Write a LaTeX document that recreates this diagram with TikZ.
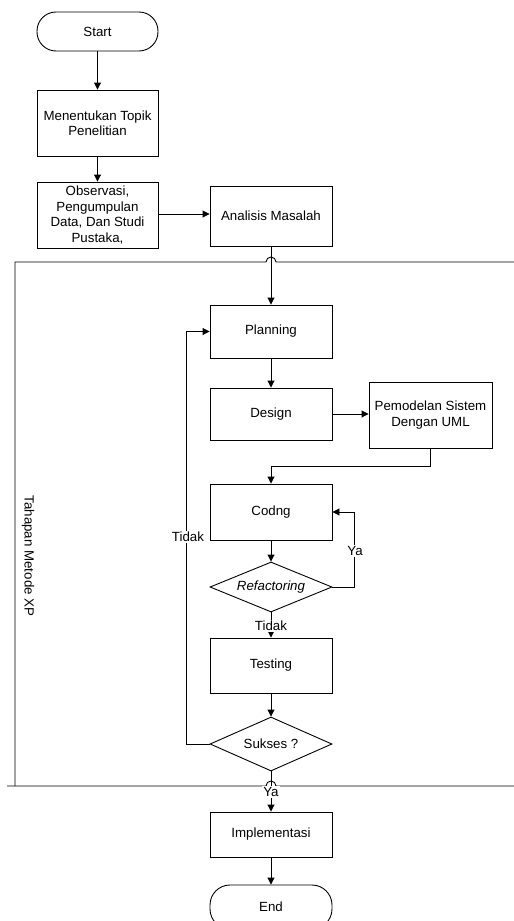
\documentclass[tikz,border=0pt]{standalone}
\usepackage{fontspec}
\setmainfont{Liberation Sans}
\usetikzlibrary{shapes.geometric,arrows.meta}
\tikzset{
  box/.style={draw, line width=0.9pt, minimum width=121pt, inner sep=2pt, align=center, font=\fontsize{13.3}{15.5}\selectfont},
  term/.style={box, rounded corners=19pt},
  dec/.style={draw, line width=0.9pt, diamond, aspect=2.4, inner sep=0pt, minimum width=122pt, font=\fontsize{13.3}{15.5}\selectfont},
  conn/.style={line width=0.9pt, -{Triangle[length=7pt,width=7pt]}},
  plain/.style={line width=0.9pt},
  lab/.style={fill=white, inner sep=1pt, font=\fontsize{13.3}{15.5}\selectfont},
}
\begin{document}
\begin{tikzpicture}[x=1pt,y=-1pt]
\useasboundingbox (0,0) rectangle (514,921);
\clip (0,0) rectangle (514,921);
% frame
\draw[plain] (514,262) -- (276,262) arc[start angle=0,end angle=-180,radius=5] -- (15,262) -- (15,786);
\draw[plain] (7,786) -- (266,786) arc[start angle=180,end angle=360,radius=5] -- (514,786);
\node[rotate=-90, font=\fontsize{13.3}{15.5}\selectfont] (lane) at (28,556) {Tahapan Metode XP};
% nodes
\node[term, minimum height=39pt] (start) at (97.5,31.5) {Start};
\node[box, minimum height=66pt] (men) at (97.5,123) {Menentukan Topik\\Penelitian};
\node[box, minimum height=66pt] (obs) at (97.5,215) {Observasi,\\Pengumpulan\\Data, Dan Studi\\Pustaka,};
\node[box, minimum width=122pt, minimum height=60pt] (ana) at (271,216) {Analisis Masalah};
\node[box, minimum width=122pt, minimum height=53pt] (plan) at (271,331.5) {Planning};
\node[box, minimum width=122pt, minimum height=52pt] (des) at (271,414) {Design};
\node[box, minimum width=123pt, minimum height=66pt] (pem) at (430.5,415) {Pemodelan Sistem\\Dengan UML};
\node[box, minimum width=122pt, minimum height=56pt] (cod) at (271,512) {Codng};
\node[dec, minimum height=50pt] (ref) at (271,587) {\itshape Refactoring};
\node[box, minimum width=122pt, minimum height=55pt] (test) at (271,665.5) {Testing};
\node[dec, minimum height=54pt] (suk) at (271,744) {Sukses ?};
\node[box, minimum width=122pt, minimum height=45pt] (impl) at (271,834.5) {Implementasi};
\node[term, minimum width=122pt, minimum height=44pt, rounded corners=20pt] (end) at (271,907) {End};
% connectors
\draw[conn] (start) -- (men);
\draw[conn] (men) -- (obs);
\draw[conn] (obs.east |- 0,214) -- (ana.west |- 0,214);
\draw[conn] (ana) -- (plan);
\draw[conn] (plan) -- (des);
\draw[conn] (des.east) -- (pem.west |- des.east);
\draw[conn] (pem.south) -- ++(0,18) -| (cod.north);
\draw[conn] (cod) -- (ref);
\draw[conn] (ref.east) -- ++(22,0) |- (cod.east);
\node[lab] (ya1) at (355,551) {Ya};
\draw[conn] (ref.south) -- (test.north);
\node[lab] (td1) at (271,626) {Tidak};
\draw[conn] (test) -- (suk);
\draw[conn] (suk.west) -- ++(-23,0) |- (plan.west);
\node[lab] (td2) at (188,537) {Tidak};
\draw[conn] (suk.south) -- (impl.north);
\node[lab] (ya2) at (271,792) {Ya};
\draw[conn] (impl) -- (end);
\end{tikzpicture}
\end{document}
